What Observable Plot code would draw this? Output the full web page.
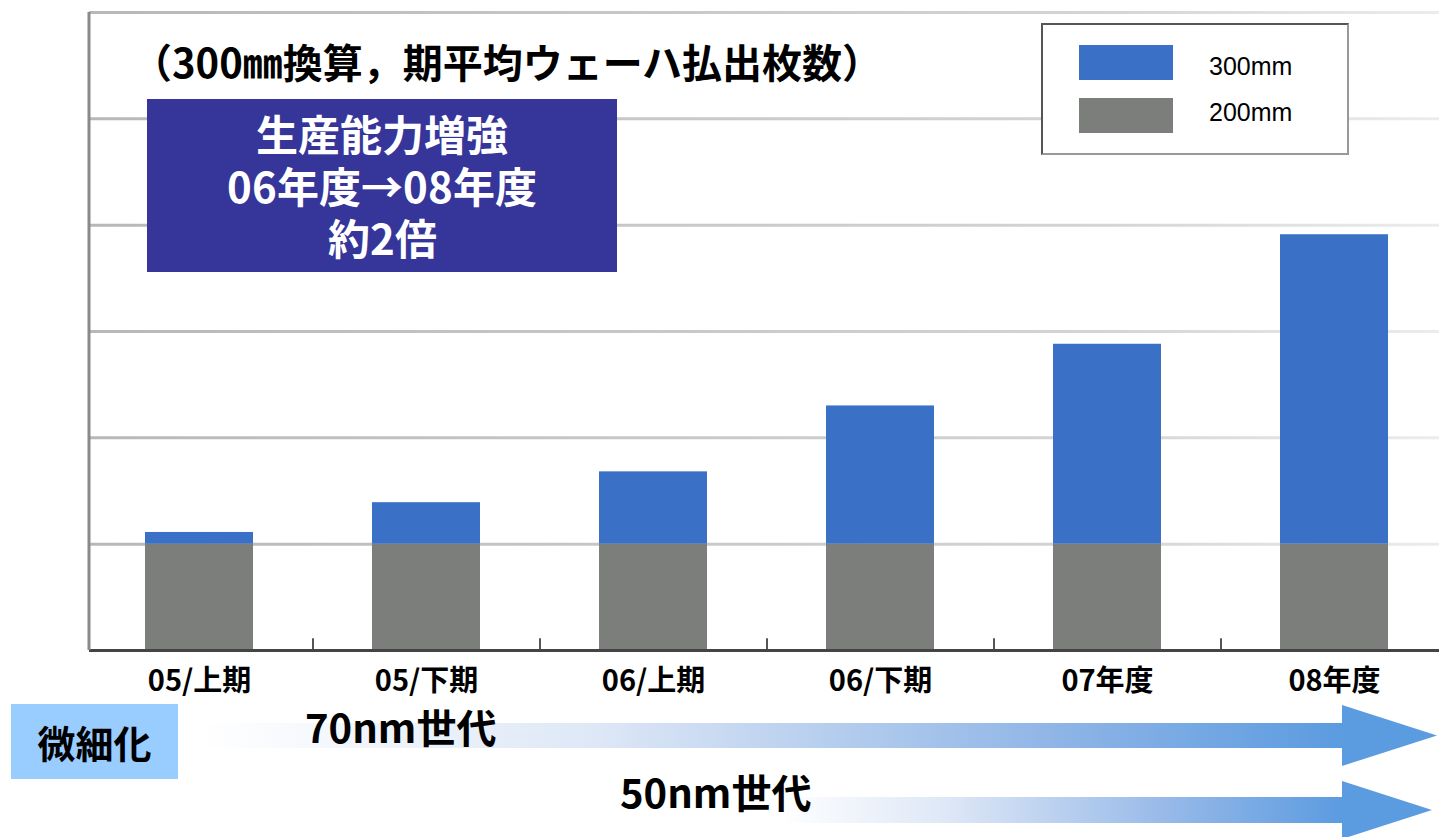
<!DOCTYPE html>
<html>
<head>
<meta charset="utf-8">
<script src="https://cdn.jsdelivr.net/npm/d3@7"></script>
<script src="https://cdn.jsdelivr.net/npm/@observablehq/plot@0.6"></script>
<style>
  @font-face {
    font-family: "CalloutJP";
    src: local("Noto Sans CJK JP Bold"), local("NotoSansCJKjp-Bold"), local("Noto Sans CJK JP");
    font-weight: 700;
    ascent-override: 88%;
    descent-override: 18%;
    line-gap-override: 0%;
  }
  html, body { margin: 0; padding: 0; background: #fff; overflow: hidden; }
  #wrap { position: relative; width: 1439px; height: 837px; font-family: "Noto Sans CJK JP", "Noto Sans", sans-serif; }
  #wrap > svg { position: absolute; left: 0; top: 0; }
  .title { position: absolute; left: 132px; top: 35px; font-size: 40px; font-weight: 700; color: #000; white-space: nowrap; line-height: 52px; }
  .callout { position: absolute; left: 147px; top: 99px; width: 470px; height: 173px; background: #35359a; color: #fff; font-family: "CalloutJP", "Noto Sans CJK JP", sans-serif; font-weight: 700; font-size: 42px; line-height: 52px; text-align: center; box-sizing: border-box; padding-top: 12px; }
  .legend { position: absolute; left: 1041px; top: 23px; width: 308px; height: 132px; box-sizing: border-box; border: 2px solid #555; border-right-color: #999; border-bottom-color: #999; background: #fff; }
  .legend .row { position: absolute; left: 36px; height: 35px; display: flex; align-items: center; }
  .legend .sw { width: 94px; height: 35px; }
  .legend .lab { margin-left: 36px; font-family: "Liberation Sans", Arial, sans-serif; font-size: 25px; color: #000; position: relative; }
  .tag { position: absolute; left: 11px; top: 704px; width: 167px; height: 75px; background: #99ccff; font-weight: 700; font-size: 38px; line-height: 75px; text-align: center; color: #000; }
  .gen { position: absolute; font-weight: 700; font-size: 40px; color: #000; white-space: nowrap; line-height: 50px; }
</style>
</head>
<body>
<div id="wrap"></div>
<script>
// ---- data ----
const categories = ["05/上期", "05/下期", "06/上期", "06/下期", "07年度", "08年度"];
const wafer200 = [1, 1, 1, 1, 1, 1];
const wafer300 = [0.11, 0.39, 0.68, 1.30, 1.88, 2.91];
const seriesNames = ["300mm", "200mm"];
const seriesColors = ["#3a70c6", "#7b7e7b"];
const yTicks = [0, 1, 2, 3, 4, 5, 6];
const titleText = "（300㎜換算，期平均ウェーハ払出枚数）";
const calloutLines = ["生産能力増強", "06年度→08年度", "約2倍"];
const tagText = "微細化";
const generations = ["70nm世代", "50nm世代"];

const rows = [];
categories.forEach((c, i) => {
  rows.push({ period: c, size: "200mm", value: wafer200[i] });
  rows.push({ period: c, size: "300mm", value: wafer300[i] });
});

const wrap = document.getElementById("wrap");

const plot = Plot.plot({
  width: 1439,
  height: 837,
  marginTop: 12,
  marginLeft: 89,
  marginRight: 0,
  marginBottom: 187,
  x: { domain: categories, range: [86, 1448], paddingInner: 0.524, paddingOuter: 0.262, label: null },
  y: { domain: [0, 6], label: null },
  color: { domain: seriesNames, range: seriesColors },
  style: { fontFamily: "'Noto Sans CJK JP', sans-serif", background: "transparent" },
  marks: [
    Plot.ruleY(yTicks.slice(1), { stroke: "url(#gridGrad)", strokeWidth: 3 }),
    Plot.barY(rows, Plot.stackY({ order: ["200mm", "300mm"] }, { x: "period", y: "value", fill: "size" })),
    Plot.ruleX(categories.slice(1), { x: d => d, dx: -113.5, y1: 0, y2: 0.11, stroke: "#555", strokeWidth: 2 }),
    Plot.ruleY([0], { stroke: "#444", strokeWidth: 3 }),
    Plot.ruleX([categories[0]], { x: d => d, dx: -110.5, y1: 0, y2: 6, stroke: "#8a8a8a", strokeWidth: 3 }),
    Plot.axisX({ tickSize: 0, tickPadding: 20, fontSize: 29, fontWeight: 700, fill: "#000" }),
    Plot.axisY({ ticks: [], tickSize: 0 })
  ]
});

// gradient for gridlines (fade to the right)
const ns = "http://www.w3.org/2000/svg";
const defs = document.createElementNS(ns, "defs");
defs.innerHTML = `
  <linearGradient id="gridGrad" gradientUnits="userSpaceOnUse" x1="89" y1="0" x2="1439" y2="0">
    <stop offset="0" stop-color="#b8b8b8"/>
    <stop offset="0.75" stop-color="#d4d4d4"/>
    <stop offset="1" stop-color="#ececec"/>
  </linearGradient>`;
plot.insertBefore(defs, plot.firstChild);
wrap.appendChild(plot);

// arrows overlay
const arrows = document.createElementNS(ns, "svg");
arrows.setAttribute("width", 1439);
arrows.setAttribute("height", 837);
arrows.innerHTML = `
  <defs>
    <linearGradient id="arrowG1" gradientUnits="userSpaceOnUse" x1="200" y1="0" x2="1342" y2="0">
      <stop offset="0" stop-color="#ffffff"/>
      <stop offset="0.35" stop-color="#dde7f6"/>
      <stop offset="0.75" stop-color="#8fb5e6"/>
      <stop offset="1" stop-color="#5b9be0"/>
    </linearGradient>
    <linearGradient id="arrowG2" gradientUnits="userSpaceOnUse" x1="780" y1="0" x2="1342" y2="0">
      <stop offset="0" stop-color="#ffffff"/>
      <stop offset="0.3" stop-color="#dde7f6"/>
      <stop offset="0.7" stop-color="#95b8e8"/>
      <stop offset="1" stop-color="#5b9be0"/>
    </linearGradient>
  </defs>
  <rect x="200" y="723" width="1143" height="25" fill="url(#arrowG1)"/>
  <polygon points="1342,705 1437,735.5 1342,766" fill="#5b9be0"/>
  <rect x="780" y="797" width="563" height="26" fill="url(#arrowG2)"/>
  <polygon points="1342,781 1432,810 1342,839" fill="#5b9be0"/>`;
wrap.appendChild(arrows);

// title
const t = document.createElement("div");
t.className = "title";
t.textContent = titleText;
wrap.appendChild(t);

// callout
const c = document.createElement("div");
c.className = "callout";
c.innerHTML = calloutLines.map(s => `<div>${s}</div>`).join("");
wrap.appendChild(c);

// legend
const lg = document.createElement("div");
lg.className = "legend";
seriesNames.forEach((n, i) => {
  const r = document.createElement("div");
  r.className = "row";
  r.style.top = (20 + i * 53) + "px";
  r.innerHTML = `<div class="sw" style="background:${seriesColors[i]}"></div><div class="lab" style="top:${i === 0 ? 4 : -3}px">${n}</div>`;
  lg.appendChild(r);
});
wrap.appendChild(lg);

// tag
const tag = document.createElement("div");
tag.className = "tag";
tag.textContent = tagText;
wrap.appendChild(tag);

// generations
[[305, 701], [620, 766]].forEach(([x, y], i) => {
  const g = document.createElement("div");
  g.className = "gen";
  g.style.left = x + "px";
  g.style.top = y + "px";
  g.textContent = generations[i];
  wrap.appendChild(g);
});
</script>
</body>
</html>
